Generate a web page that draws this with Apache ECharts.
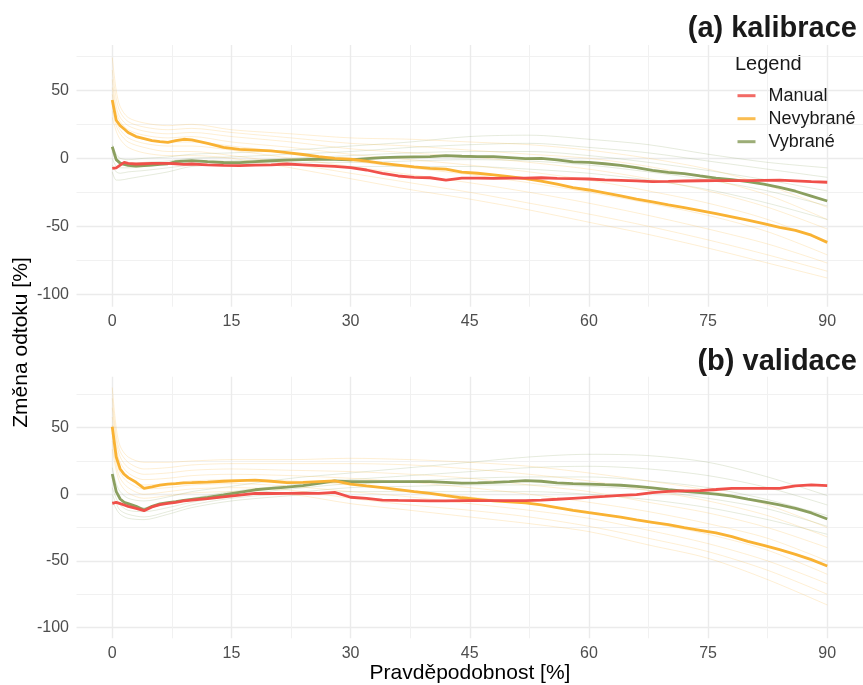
<!DOCTYPE html>
<html>
<head>
<meta charset="utf-8">
<script src="https://cdn.jsdelivr.net/npm/echarts@6/dist/echarts.min.js"></script>
<style>
html,body{margin:0;padding:0;background:#fff;}
#chart{width:863px;height:685px;}
</style>
</head>
<body>
<div id="chart"></div>
<script>
// ---- tick labels ----
const xTicks = [0, 15, 30, 45, 60, 75, 90];
const xMinor = [7.5, 22.5, 37.5, 52.5, 67.5, 82.5];
const yTicks = [-100, -50, 0, 50];
const yMinor = [-75, -25, 25, 75];

// ---- x positions of the main lines ----
const xMain = [0,0.5,1,1.5,2,3,4,5,6,7,8,9,10,12,14,16,18,20,22,24,26,28,30,32,34,36,38,40,42,44,46,48,50,52,54,56,58,60,62,64,66,68,70,72,74,76,78,80,82,84,86,88,90];

// ---- (a) kalibrace, main lines ----
const aManual = [-7.4,-7,-5,-3,-3.8,-4.2,-4,-3.8,-3.7,-3.7,-4,-4.5,-4.2,
  -4.8,-5.2,-5.4,-5,-4.9,-4.2,-4.8,-5.4,-6,-6.9,
  -8.6,-11,-13,-14,-14.3,-16,-14.5,-14.5,-14.8,-14.6,
  -14.5,-14.3,-14.8,-15,-15.2,-15.8,-16.2,-16.6,-17.2,-17,
  -16.7,-16.5,-16.4,-16.4,-16.4,-16.2,-16,-16.6,-17.2,-17.6];
const aNevybrane = [42.9,28,24,21.5,19,16,14.5,13,12.2,11.7,13,14,13.5,
  11,8,6.6,6,5.4,4.2,2.8,1.2,0,-0.7,
  -2,-3.7,-5,-6.3,-7.4,-8,-10.2,-11,-12.2,-13.5,
  -15,-16.7,-19,-21.5,-23.3,-25.5,-27.7,-30,-32,-34.2,
  -36.3,-38.5,-40.7,-43,-45.4,-48,-50.8,-53,-56.5,-61.8];
const aVybrane = [8.5,-1,-3.5,-4.5,-5.2,-5.7,-5.4,-5,-4.5,-4,-2.5,-2,-1.7,
  -2.5,-3.1,-3.2,-2.5,-1.8,-1.3,-1,-0.7,-0.8,-1.2,
  -0.3,0.5,0.8,1,1.2,2,1.5,1.2,1.2,0.5,
  -0.3,0,-1.2,-2.6,-3,-4,-5.2,-6.8,-8.8,-10.3,
  -11.2,-13,-14.5,-15.6,-17.2,-19,-21.3,-24.2,-27.8,-31.4];

// ---- (b) validace, main lines ----
const bManual = [-6.8,-6,-7,-8,-9,-10.5,-12.3,-9.5,-7.8,-6.8,-6,-5,-4.3,
  -3.2,-2,-0.6,0.7,0.6,0.7,0.8,0.7,1.5,-2.2,
  -3,-4.3,-4.6,-4.8,-5,-5,-4.8,-4.8,-4.8,-4.8,
  -4.7,-4.3,-3.7,-3,-2.3,-1.6,-0.8,-0.2,1.3,2.2,
  2.5,2.8,3.6,4.5,4.5,4.5,4.5,6.3,7,6.5];
const bNevybrane = [50.7,28,19,15,12.5,9,4.5,5.5,6.8,7.7,8,8.5,8.7,
  9.2,9.8,10.3,10.7,9.8,8.8,9,9.5,10,7.7,
  6.3,5,3.5,2,0.7,-1,-2.6,-3.8,-5,-5.6,
  -6.5,-8,-10,-12,-13.8,-15.5,-17.2,-19.2,-21,-22.8,
  -25,-27,-29,-31.8,-35.3,-38.3,-41.5,-45,-49,-53.8];
const bVybrane = [15.2,2,-3.5,-6,-7,-9,-11.8,-9,-7.2,-6.2,-5.5,-4.6,-3.8,
  -2.3,-0.5,1.5,3.4,4.5,5.4,6.5,8.2,10,9.5,
  9.4,9.5,9.5,9.5,9.5,9,8.4,8.6,9,9.5,
  10.2,9.8,8.5,8,7.7,7.2,6.8,6,4.8,3.5,
  2.3,1.3,0.1,-1.3,-3.6,-5.6,-7.9,-10.5,-14,-18.5];

// ---- x positions of the faint ensemble lines ----
const xFaint = [0,0.5,1,2,4,7,10,15,22.5,30,37.5,45,52.5,60,67.5,75,82.5,90];

// ---- (a) faint ensemble ----
const aNevFaint = [
  [74,50,38,30,26,24,25,21,18,15,14,12,10,6,0,-8,-20,-36],
  [65,44,34,27,23,21,22,19,15,11,9,6,3,0,-6,-15,-27,-45],
  [58,38,30,24,20,18,19,16,12,7,4,1,-3,-8,-15,-24,-36,-52],
  [52,34,27,21,17,15,16,12,8,3,-1,-5,-10,-16,-24,-33,-45,-62],
  [47,30,24,18,14,12,12,9,4,-2,-7,-12,-18,-25,-33,-42,-54,-71],
  [40,27,21,15,11,9,9,6,0,-6,-12,-18,-25,-33,-42,-52,-63,-77],
  [35,24,18,12,8,5,5,2,-4,-11,-18,-25,-33,-41,-50,-60,-71,-83],
  [30,20,14,8,4,2,2,0,-7,-15,-23,-30,-38,-47,-56,-66,-77,-88]
];
const aVybFaint = [
  [10,3,0,-1,0,1,3,4,6,9,12,16,17,14,10,3,-3,-7],
  [5,-2,-4,-4,-3,-2,0,1,3,5,8,10,11,8,4,-2,-8,-14],
  [0,-6,-7,-7,-6,-4,-3,-2,0,2,4,5,5,2,-3,-9,-16,-24],
  [-5,-10,-11,-10,-9,-7,-5,-4,-3,-3,-2,-1,-2,-5,-10,-16,-24,-35],
  [-10,-16,-16,-15,-13,-10,-6,-5,-5,-6,-6,-6,-8,-11,-16,-23,-33,-45]
];

// ---- (b) faint ensemble ----
const bNevFaint = [
  [80,50,36,28,24,24,25,26,26,27,26,24,21,16,10,3,-8,-25],
  [72,44,32,24,19,20,22,23,23,23,22,19,15,10,3,-5,-16,-32],
  [65,40,28,20,15,16,18,19,18,17,15,12,7,2,-6,-14,-25,-40],
  [58,35,24,16,11,12,14,15,14,12,9,5,0,-6,-13,-22,-33,-50],
  [52,30,20,12,7,8,10,11,10,7,3,-2,-7,-13,-21,-30,-42,-60],
  [46,26,16,9,4,5,7,8,6,2,-2,-7,-12,-18,-27,-37,-50,-67],
  [40,22,12,5,0,2,4,5,3,-3,-8,-12,-17,-24,-33,-43,-57,-75],
  [34,18,8,1,-3,-1,1,2,0,-7,-12,-17,-22,-28,-38,-48,-64,-83]
];
const bVybFaint = [
  [20,8,2,-3,-5,-2,2,6,12,16,20,24,28,30,29,24,13,-1],
  [12,2,-4,-8,-10,-7,-3,2,7,11,14,17,20,21,19,14,5,-8],
  [5,-3,-8,-12,-13,-10,-6,-1,4,8,10,12,13,13,10,5,-4,-16],
  [0,-7,-12,-15,-17,-13,-8,-3,1,5,6,7,7,6,3,-3,-11,-24],
  [-5,-11,-15,-18,-19,-15,-10,-5,-1,2,2,2,2,0,-4,-10,-19,-30]
];

const seriesNames = ['Manual', 'Nevybrané', 'Vybrané'];
const panelTitles = ['(a) kalibrace', '(b) validace'];

// ---- styling ----
const FONT = '"Liberation Sans", Arial, Helvetica, sans-serif';
const COLORS = {Manual: '#F0504A', 'Nevybrané': '#F9B233', 'Vybrané': '#8B9F5F'};
const FAINT_NEV = 'rgba(249,178,51,0.21)';
const FAINT_VYB = 'rgba(139,159,95,0.21)';

function zip(xs, ys) { return xs.map((x, i) => [x, ys[i]]); }

const grids = [
  {left: 76.5, top: 45, width: 788, height: 261.7},
  {left: 76.5, top: 376.7, width: 788, height: 261.6}
];
const yRanges = [[-109.1, 83.3], [-108, 88.2]];

const xAxes = [], yAxes = [];
[0, 1].forEach(g => {
  [true, false].forEach(major => {
    xAxes.push({
      type: 'value', gridIndex: g, min: -4.5, max: 94.5,
      position: major ? 'bottom' : 'top',
      axisLine: {show: false},
      axisTick: {show: false, customValues: major ? xTicks : xMinor},
      axisLabel: major ? {show: true, customValues: xTicks, margin: 7, fontSize: 16,
        color: '#4D4D4D', fontFamily: FONT} : {show: false},
      splitLine: {show: true, lineStyle: {color: major ? '#EBEBEB' : '#F1F1F1', width: major ? 1.4 : 1}}
    });
    yAxes.push({
      type: 'value', gridIndex: g, min: yRanges[g][0], max: yRanges[g][1],
      position: major ? 'left' : 'right',
      axisLine: {show: false},
      axisTick: {show: false, customValues: major ? yTicks : yMinor},
      axisLabel: major ? {show: true, customValues: yTicks, margin: 7.5, fontSize: 16,
        color: '#4D4D4D', fontFamily: FONT} : {show: false},
      splitLine: {show: true, lineStyle: {color: major ? '#EBEBEB' : '#F1F1F1', width: major ? 1.4 : 1}}
    });
  });
});

const series = [];
function faint(axis, ys, color) {
  series.push({
    type: 'line', xAxisIndex: axis, yAxisIndex: axis, data: zip(xFaint, ys),
    symbol: 'none', showSymbol: false, silent: true, smooth: 0.3, z: 1,
    lineStyle: {width: 1, color: color}
  });
}
function main(axis, name, ys) {
  series.push({
    type: 'line', name: name, xAxisIndex: axis, yAxisIndex: axis, data: zip(xMain, ys),
    symbol: 'none', showSymbol: false, z: 3, color: COLORS[name],
    lineStyle: {width: 2.8, color: COLORS[name]}
  });
}
aVybFaint.forEach(ys => faint(0, ys, FAINT_VYB));
aNevFaint.forEach(ys => faint(0, ys, FAINT_NEV));
bVybFaint.forEach(ys => faint(2, ys, FAINT_VYB));
bNevFaint.forEach(ys => faint(2, ys, FAINT_NEV));
main(0, 'Vybrané', aVybrane);
main(0, 'Nevybrané', aNevybrane);
main(0, 'Manual', aManual);
main(2, 'Vybrané', bVybrane);
main(2, 'Nevybrané', bNevybrane);
main(2, 'Manual', bManual);

const chart = echarts.init(document.getElementById('chart'), null, {renderer: 'canvas'});
chart.setOption({
  animation: false,
  backgroundColor: '#fff',
  grid: grids,
  xAxis: xAxes,
  yAxis: yAxes,
  legend: {
    data: seriesNames, orient: 'vertical', left: 736, top: 86.7, padding: 0,
    itemWidth: 18, itemHeight: 3, itemGap: 5, selectedMode: false,
    itemStyle: {opacity: 0},
    lineStyle: {width: 3, opacity: 0.85},
    textStyle: {fontSize: 18, lineHeight: 18, color: '#1A1A1A', fontFamily: FONT, padding: [0, 0, 0, 8]}
  },
  graphic: [
    {type: 'text', x: 857, y: 28.5, style: {text: panelTitles[0], fontSize: 29, fontWeight: 'bold',
      fontFamily: FONT, fill: '#1A1A1A', align: 'right', verticalAlign: 'middle'}},
    {type: 'text', x: 857, y: 361.5, style: {text: panelTitles[1], fontSize: 29, fontWeight: 'bold',
      fontFamily: FONT, fill: '#1A1A1A', align: 'right', verticalAlign: 'middle'}},
    {type: 'text', x: 735, y: 64, style: {text: 'Legend', fontSize: 20,
      fontFamily: FONT, fill: '#1A1A1A', align: 'left', verticalAlign: 'middle'}},
    {type: 'text', x: 21, y: 342.5, rotation: Math.PI / 2, style: {text: 'Změna odtoku [%]', fontSize: 21,
      fontFamily: FONT, fill: '#000', align: 'center', verticalAlign: 'middle'}},
    {type: 'text', x: 470, y: 673, style: {text: 'Pravděpodobnost [%]', fontSize: 21,
      fontFamily: FONT, fill: '#000', align: 'center', verticalAlign: 'middle'}}
  ],
  series: series
});
</script>
</body>
</html>
